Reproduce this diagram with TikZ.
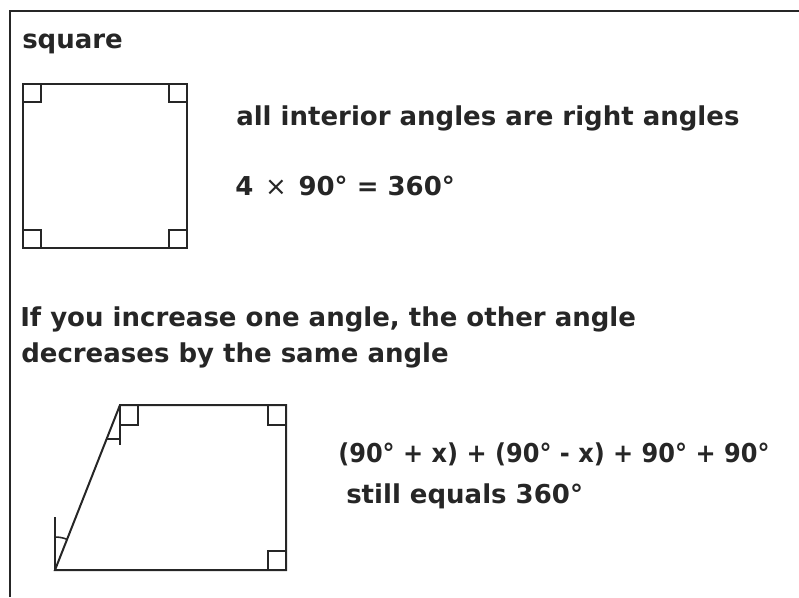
\documentclass[tikz,border=0pt]{standalone}
\usepackage{fontspec}
\setmainfont{DejaVu Sans}

\begin{document}
\begin{tikzpicture}[
        x=0.75pt, y=-0.75pt,
        caption/.style={anchor=base west, inner sep=0pt, text=black!85, font={\fontsize{19.5pt}{23pt}\selectfont\bfseries}},
        edge/.style={line width=1.5pt, draw=black!85},
        rightmark/.style={line width=1.2pt, draw=black!85}
    ]
        \useasboundingbox (0,0) rectangle (799,597);

        % Frame
        \draw [edge] (10,597) -- (10,11) -- (799,11);

        % Square with its four right angles
        \node (title) [caption] at (22,48) {square};
        \draw [edge] (23,84) rectangle (187,248);
        \foreach \cx/\cy/\dx/\dy in {23/84/1/1, 187/84/-1/1, 187/248/-1/-1, 23/248/1/-1}
            \draw [rightmark] (\cx+18*\dx,\cy) -- (\cx+18*\dx,\cy+18*\dy) -- (\cx,\cy+18*\dy);

        \node (interior) [caption] at (236,125) {all interior angles are right angles};
        \node (product) [caption] at (235,195) {4\hspace{0.45em}{\mdseries ×}\hspace{0.45em}90° = 360°};

        % Explanation
        \node (increase) [caption] at (20,326) {If you increase one angle, the other angle};
        \node (decrease) [caption] at (21,362) {decreases by the same angle};

        % Quadrilateral
        \coordinate (A) at (55,570);
        \coordinate (B) at (120,405);
        \coordinate (C) at (286,405);
        \coordinate (D) at (286,570);
        \draw [edge] (A) -- (B) -- (C) -- (D) -- cycle;

        % Right angles at B, C, D
        \draw [rightmark] (138,405) -- (138,425) -- (120,425);
        \draw [rightmark] (268,405) -- (268,425) -- (286,425);
        \draw [rightmark] (268,570) -- (268,551) -- (286,551);

        % Angle x at B and at A
        \draw [rightmark] (B) -- (120,445);
        \draw [rightmark] (107,439) -- (120,439);
        \draw [rightmark] (A) -- (55,517);
        \draw [rightmark] (55,537) arc[start angle=-90, end angle=-68.5, radius=33];

        \node (total) [caption] at (338,462) {\scalebox{0.925}[1]{(90° + x) + (90° - x) + 90° + 90°}};
        \node (still) [caption] at (346,503) {still equals 360°};
    \end{tikzpicture}
\end{document}
